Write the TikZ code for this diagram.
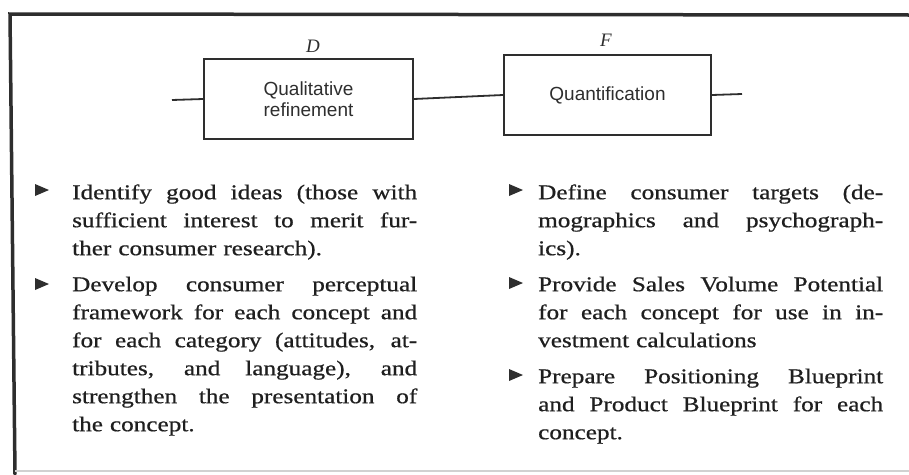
\documentclass[tikz,border=0pt]{standalone}
\usepackage{fontspec}
\setmainfont{Liberation Serif}
\newfontfamily\bodyfont{Liberation Serif}[FakeStretch=1.2,FakeBold=0.7]
\newfontfamily\boxfont{Liberation Sans}
\definecolor{ink}{gray}{0.18}
\definecolor{faint}{gray}{0.82}
% one justified line of a bullet item: explicit stretchable word spaces
\newcommand\jline[1]{\leavevmode{\spaceskip=0.25em plus 2em minus 0.05em\relax
  \hbox to 345pt{#1}}}
\newcommand\firstline[1]{\leavevmode\rule{0pt}{16pt}\jline{#1}}
% right-pointing filled bullet at a named coordinate
\newcommand\tribullet[1]{\fill[ink,shift={(#1)}] (-7,-6) -- (7,0) -- (-7,6) -- cycle;}
\begin{document}
\begin{tikzpicture}[x=1pt,y=-1pt,
  stage/.style={draw=ink,line width=1.8pt,inner sep=0pt,align=center,
    font=\boxfont\fontsize{19}{21}\selectfont,text=ink},
  link/.style={draw=ink,line width=1.8pt},
  tag/.style={font=\itshape\fontsize{19}{19}\selectfont,text=ink,inner sep=0pt},
  item/.style={anchor=north west,inner sep=0pt,text width=345pt,align=left,
    font=\bodyfont\fontsize{21}{28}\selectfont,text=black!88}]
\useasboundingbox (0,0) rectangle (909,474);

% frame
\draw[ink,line width=3.5pt,line cap=round] (909,15) -- (10,14) -- (15,474);
\draw[faint,line width=1.2pt] (15,471) -- (909,471);

% stages
\node[stage,minimum width=209pt,minimum height=80pt] (qual) at (308.5,99) {Qualitative\\refinement};
\node[stage,minimum width=207pt,minimum height=80pt] (quant) at (607.5,95) {Quantification};
\node[tag] (dtag) at (313,46) {D};
\node[tag] (ftag) at (606,40) {F};

\coordinate (inL) at (172,100);
\coordinate (outR) at (742,94);
\draw[link] (inL) -- (qual.west);
\draw[link] (qual.east) -- (quant.west);
\draw[link] (quant.east) -- (outR);

% left column
\coordinate (lb1) at (42,190);
\coordinate (lb2) at (42,284);
\tribullet{lb1}
\tribullet{lb2}
\node[item] (l1) at (72,183) {\firstline{Identify good ideas (those with}\\
  \jline{sufficient interest to merit fur-}\\
  ther consumer research).\par};
\node[item] (l2) at (72,275) {\firstline{Develop consumer perceptual}\\
  \jline{framework for each concept and}\\
  \jline{for each category (attitudes, at-}\\
  \jline{tributes, and language), and}\\
  \jline{strengthen the presentation of}\\
  the concept.\par};

% right column
\coordinate (rb1) at (516,190);
\coordinate (rb2) at (516,283);
\coordinate (rb3) at (516,375);
\tribullet{rb1}
\tribullet{rb2}
\tribullet{rb3}
\node[item] (r1) at (538,183) {\firstline{Define consumer targets (de-}\\
  \jline{mographics and psychograph-}\\
  ics).\par};
\node[item] (r2) at (538,275) {\firstline{Provide Sales Volume Potential}\\
  \jline{for each concept for use in in-}\\
  vestment calculations\par};
\node[item] (r3) at (538,367) {\firstline{Prepare Positioning Blueprint}\\
  \jline{and Product Blueprint for each}\\
  concept.\par};
\end{tikzpicture}
\end{document}
